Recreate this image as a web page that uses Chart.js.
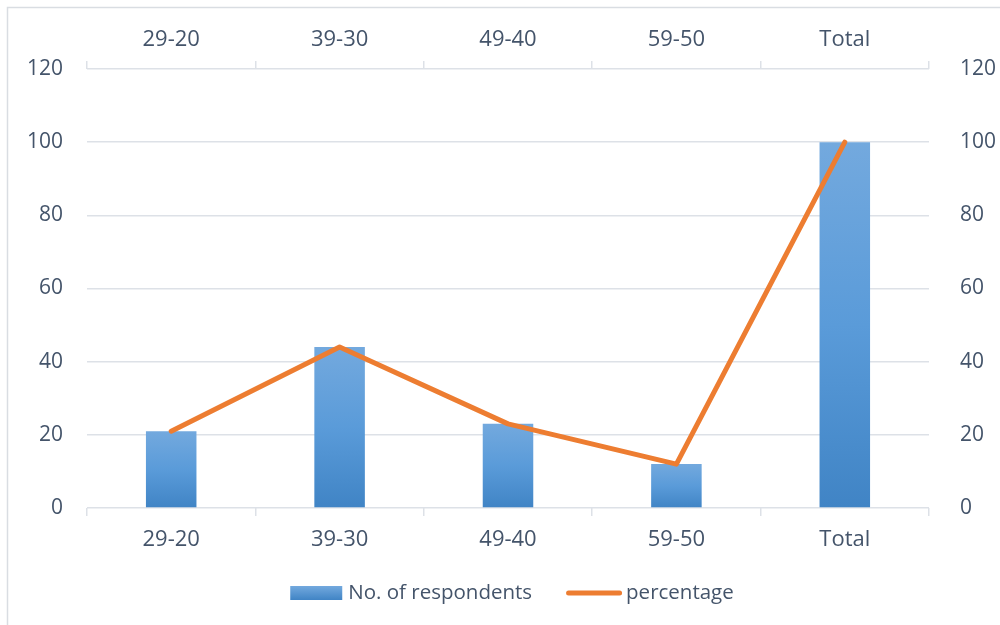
<!DOCTYPE html>
<html><head><meta charset="utf-8">
<script src="https://cdn.jsdelivr.net/npm/chart.js@4"></script>
<style>html,body{margin:0;padding:0;background:#fff;overflow:hidden}#wrap{width:1000px;height:625px;position:relative}</style>
</head><body><div id="wrap"><canvas id="c" width="1000" height="625"></canvas></div>
<script>
const categories = ['29-20', '39-30', '49-40', '59-50', 'Total'];
const respondents = [21, 44, 23, 12, 100];
const percentage = [21, 44, 23, 12, 100];
const yTicks = [0, 20, 40, 60, 80, 100, 120];

const TEXT = '#44546a';
const GRID = '#dde1e7';
const FONT = '"Open Sans", sans-serif';

Chart.defaults.font.family = FONT;
Chart.defaults.font.size = 21;
Chart.defaults.color = TEXT;

function barGradient(ctx) {
  const ch = ctx.chart;
  const y = ch.scales && ch.scales.y;
  if (!y || ctx.type !== 'data') return '#5b9bd5';
  const top = y.getPixelForValue(ctx.raw);
  const bot = y.getPixelForValue(0);
  if (!isFinite(top) || !isFinite(bot) || top === bot) return '#5b9bd5';
  const g = ch.ctx.createLinearGradient(0, top, 0, bot);
  g.addColorStop(0, '#73a9de');
  g.addColorStop(0.5, '#5a9bd9');
  g.addColorStop(1, '#4084c5');
  return g;
}

const frameAndLegend = {
  id: 'frameAndLegend',
  beforeDraw(chart) {
    const c = chart.ctx;
    c.save();
    c.strokeStyle = '#d9dde2';
    c.lineWidth = 1.5;
    c.strokeRect(7.5, 7.5, 1100, 700);
    c.restore();
  },
  afterDraw(chart) {
    const c = chart.ctx;
    const ds = chart.data.datasets;
    c.save();
    c.font = '20.5px ' + FONT;
    c.textBaseline = 'middle';
    c.fillStyle = TEXT;
    const t1 = ds[0].label, t2 = ds[1].label;
    const w1 = c.measureText(t1).width, w2 = c.measureText(t2).width;
    const boxW = 52, gap1 = 6, mid = 34, lineW = 56, gap2 = 4;
    const total = boxW + gap1 + w1 + mid + lineW + gap2 + w2;
    let x = 512 - total / 2;
    const yc = 593;
    const g = c.createLinearGradient(0, yc - 7, 0, yc + 7);
    g.addColorStop(0, '#73a9de'); g.addColorStop(1, '#4084c5');
    c.fillStyle = g;
    c.fillRect(x, yc - 7, boxW, 14);
    x += boxW + gap1;
    c.fillStyle = TEXT;
    c.fillText(t1, x, yc);
    x += w1 + mid;
    c.strokeStyle = '#ed7d31';
    c.lineWidth = 5;
    c.lineCap = 'round';
    c.beginPath(); c.moveTo(x + 2.5, yc); c.lineTo(x + lineW - 2.5, yc); c.stroke();
    x += lineW + gap2;
    c.fillText(t2, x, yc);
    c.restore();
  }
};

new Chart(document.getElementById('c'), {
  data: {
    labels: categories,
    datasets: [
      { type: 'bar', label: 'No. of respondents', data: respondents, backgroundColor: barGradient,
        barPercentage: 0.3, categoryPercentage: 1, order: 2, xAxisID: 'x', yAxisID: 'y' },
      { type: 'line', label: 'percentage', data: percentage, borderColor: '#ed7d31', backgroundColor: '#ed7d31',
        borderWidth: 5, pointRadius: 0, pointHoverRadius: 0, tension: 0, borderCapStyle: 'round',
        borderJoinStyle: 'round', order: 1, xAxisID: 'x', yAxisID: 'y' }
    ]
  },
  options: {
    responsive: false,
    animation: false,
    devicePixelRatio: 1,
    layout: { padding: 0 },
    plugins: { legend: { display: false }, tooltip: { enabled: false } },
    scales: {
      x: {
        type: 'category', position: 'bottom', offset: true,
        grid: { offset: true, drawOnChartArea: false, drawTicks: true, tickLength: 8, color: GRID, lineWidth: 1.5 },
        border: { display: false },
        ticks: { padding: 11, color: TEXT, font: { size: 22 } },
        afterFit(s) { s.height = 117; }
      },
      x2: {
        type: 'category', position: 'top', offset: true, labels: categories,
        grid: { offset: true, drawOnChartArea: false, drawTicks: true, tickLength: 8, color: GRID, lineWidth: 1.5 },
        border: { display: false },
        ticks: { padding: 8, color: TEXT, font: { size: 22 } },
        afterFit(s) { s.height = 69; }
      },
      y: {
        position: 'left', min: 0, max: 120,
        afterBuildTicks(s) { s.ticks = yTicks.map(v => ({ value: v })); },
        grid: { color: GRID, lineWidth: 1.5, drawTicks: false },
        border: { display: false },
        ticks: { padding: 24, color: TEXT, font: { size: 21 } },
        afterFit(s) { s.width = 87; }
      },
      y2: {
        position: 'right', min: 0, max: 120,
        afterBuildTicks(s) { s.ticks = yTicks.map(v => ({ value: v })); },
        grid: { display: false, drawOnChartArea: false },
        border: { display: false },
        ticks: { padding: 23, color: TEXT, font: { size: 21 } },
        afterFit(s) { s.width = 71; }
      }
    }
  },
  plugins: [frameAndLegend]
});
</script>
</body></html>
